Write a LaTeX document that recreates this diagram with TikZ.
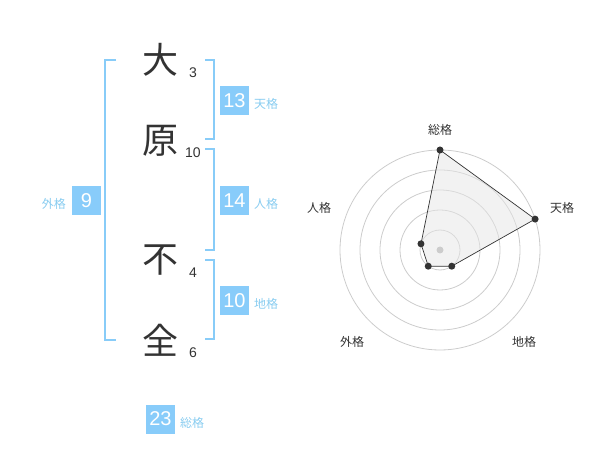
\documentclass[tikz,border=0pt]{standalone}
\usepackage{fontspec}
\setmainfont{Noto Sans CJK JP}
\newfontfamily\digitfont{Liberation Sans}
\definecolor{boxblue}{HTML}{88CCFA}
\definecolor{lblblue}{HTML}{88CCF0}
\definecolor{brblue}{HTML}{88CCF8}
\definecolor{darktxt}{HTML}{333333}
\definecolor{ringgray}{HTML}{CCCCCC}
\definecolor{polyfill}{HTML}{E6E6E6}
\tikzset{
  kanji/.style={font=\fontsize{36}{36}\selectfont, text=darktxt, inner sep=0pt},
  strokes/.style={font=\digitfont\fontsize{14}{14}\selectfont, text=darktxt, inner sep=0pt},
  numbox/.style={fill=boxblue, text=white, minimum size=29pt, inner sep=0pt, font=\digitfont\fontsize{20}{20}\selectfont},
  kaku/.style={font=\fontsize{12}{12}\selectfont, text=lblblue, inner sep=0pt},
  bracket/.style={draw=brblue, line width=2pt},
  ring/.style={draw=ringgray, line width=0.8pt},
  radarlbl/.style={font=\fontsize{12}{12}\selectfont, text=darktxt, inner sep=0pt},
  vdot/.style={circle, fill=darktxt, inner sep=0pt, minimum size=7pt},
}
\begin{document}
\begin{tikzpicture}[x=1pt,y=-1pt]
\useasboundingbox (0,0) rectangle (600,470);
% characters
\node[kanji] (c1) at (160,60) {大};
\node[kanji] (c2) at (160,141) {原};
\node[kanji] (c3) at (160,260) {不};
\node[kanji] (c4) at (160,340) {全};
\node[strokes] (s1) at (193,73) {3};
\node[strokes] (s2) at (193,153) {10};
\node[strokes] (s3) at (193,273) {4};
\node[strokes] (s4) at (193,353) {6};
% brackets
\draw[bracket] (116,60) -- (105,60) -- (105,340) -- (116,340);
\draw[bracket] (205,60) -- (214,60) -- (214,139.5) -- (205,139.5);
\draw[bracket] (205,149.5) -- (214,149.5) -- (214,250) -- (205,250);
\draw[bracket] (205,260) -- (214,260) -- (214,339.5) -- (205,339.5);
% boxes
\node[numbox] (ten) at (234.5,100.5) {13};
\node[kaku, anchor=west] (tenl) at (254,104) {天格};
\node[numbox] (jin) at (234.5,200.5) {14};
\node[kaku, anchor=west] (jinl) at (254,204) {人格};
\node[numbox] (chi) at (234.5,300.5) {10};
\node[kaku, anchor=west] (chil) at (254,304) {地格};
\node[numbox] (gai) at (86.5,200.5) {9};
\node[kaku, anchor=east] (gail) at (66,204) {外格};
\node[numbox] (sou) at (160.5,419) {23};
\node[kaku, anchor=west] (soul) at (180,423) {総格};
% radar
\coordinate (ctr) at (440,250);
\foreach \r in {20,40,60,80,100} \draw[ring] (ctr) circle[radius=\r];
\path (ctr) ++(0,-100) coordinate (pS)
      (ctr) ++(95.1,-30.9) coordinate (pT)
      (ctr) ++(11.76,16.18) coordinate (pC)
      (ctr) ++(-11.76,16.18) coordinate (pG)
      (ctr) ++(-19.02,-6.18) coordinate (pJ);
\fill[polyfill, fill opacity=0.5] (pS) -- (pT) -- (pC) -- (pG) -- (pJ) -- cycle;
\fill[ringgray] (ctr) circle[radius=3.5];
\draw[darktxt, line width=0.7pt] (pS) -- (pT) -- (pC) -- (pG) -- (pJ) -- cycle;
\foreach \p in {pS,pT,pC,pG,pJ} \node[vdot] at (\p) {};
\node[radarlbl] (lS) at (440,130) {総格};
\node[radarlbl] (lT) at (562,208) {天格};
\node[radarlbl] (lJ) at (319,208) {人格};
\node[radarlbl] (lG) at (352,342) {外格};
\node[radarlbl] (lC) at (524,342) {地格};
\end{tikzpicture}
\end{document}
